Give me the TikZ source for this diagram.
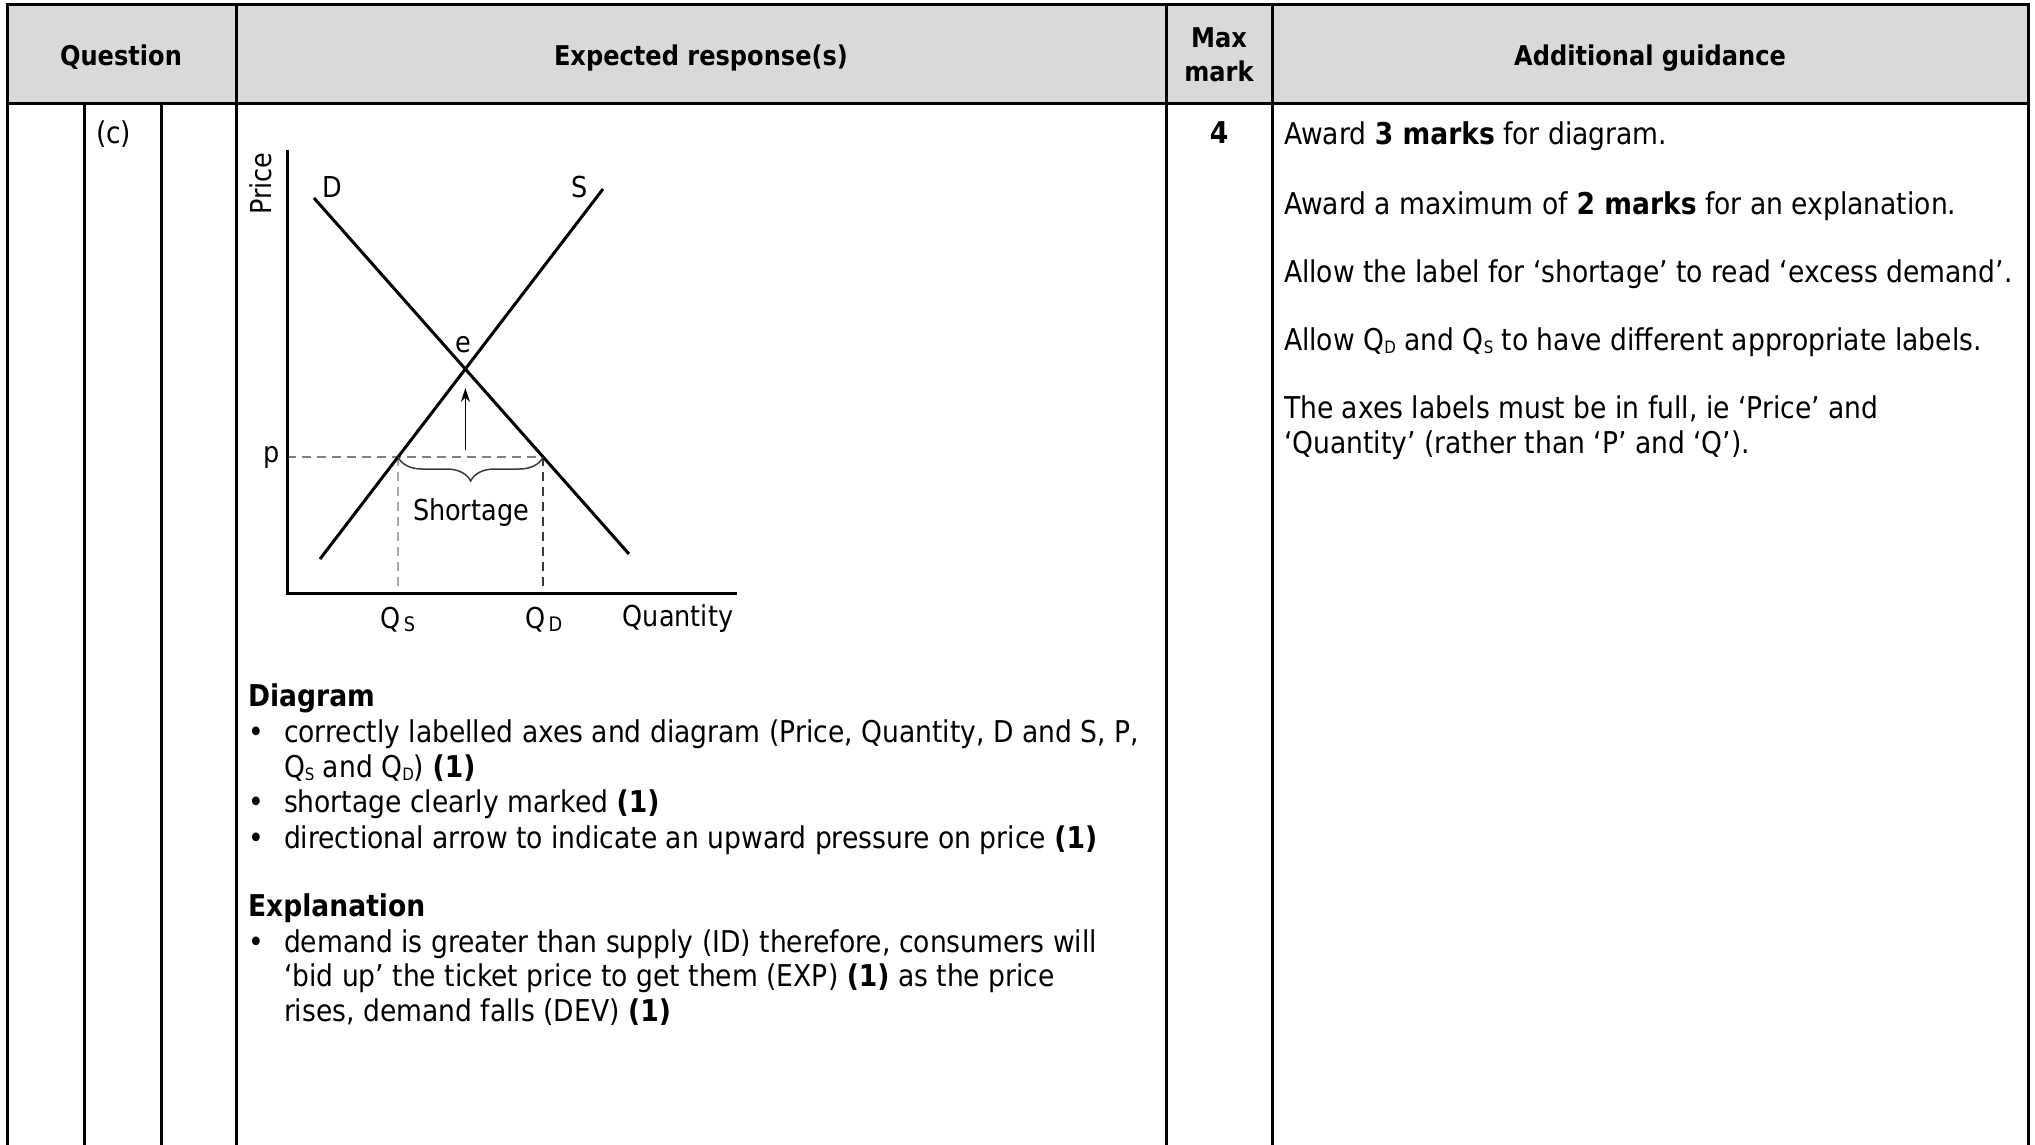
\documentclass[tikz,border=0pt]{standalone}
\usepackage{fontspec}
\setmainfont{DejaVu Sans}[FakeStretch=0.886]
\usetikzlibrary{decorations.pathreplacing,arrows.meta}
\definecolor{hdr}{HTML}{D9D9D9}
\definecolor{dashdark}{HTML}{3A3A3A}
\definecolor{dashmid}{HTML}{808080}
\definecolor{dashlight}{HTML}{A8A8A8}
\newcommand{\qsub}[1]{Q\raisebox{-0.12em}{\fontsize{17}{17}\selectfont #1}}
\newcommand{\gq}[1]{Q\kern3pt\raisebox{-3pt}{\fontsize{20}{20}\selectfont #1}}
\begin{document}
\begin{tikzpicture}[x=1pt,y=-1pt,
  rule/.style={line width=3pt,line join=miter},
  txt/.style={anchor=base west,inner sep=0pt,outer sep=0pt,font=\fontsize{30}{36}\selectfont},
  ctxt/.style={anchor=base,inner sep=0pt,outer sep=0pt,font=\fontsize{30}{36}\selectfont\bfseries},
  hd/.style={anchor=base,inner sep=0pt,outer sep=0pt,font=\fontsize{27.2}{33}\selectfont\bfseries},
  glab/.style={anchor=base,inner sep=0pt,outer sep=0pt,font=\fontsize{28.8}{34}\selectfont},
  curve/.style={line width=3pt},
  axis/.style={line width=3pt,line cap=rect},
  guide/.style={line width=1.5pt,dash pattern=on 9pt off 6pt},
]
\useasboundingbox (0,0) rectangle (2035,1145);
% table
\fill[hdr] (7,5) rectangle (2028,104);
\draw[rule] (7,1150) -- (7,5) -- (2028,5) -- (2028,1150);
\draw[rule] (7,104) -- (2028,104);
\draw[rule] (84,104) -- (84,1150);
\draw[rule] (161,104) -- (161,1150);
\draw[rule] (236,5) -- (236,1150);
\draw[rule] (1166,5) -- (1166,1150);
\draw[rule] (1272,5) -- (1272,1150);
% header
\node[hd] (hq) at (121,66) {Question};
\node[hd] (he) at (701,66) {Expected response(s)};
\node[hd] (hm1) at (1219,48) {Max};
\node[hd] (hm2) at (1219,82) {mark};
\node[hd] (hg) at (1650,66) {Additional guidance};
% row
\node[txt] (qc) at (96,144) {(c)};
\node[ctxt] (mk) at (1219,144) {4};
% guidance
\node[txt] (g1) at (1284,145) {Award \textbf{3 marks} for diagram.};
\node[txt] (g2) at (1284,214) {Award a maximum of \textbf{2 marks} for an explanation.};
\node[txt] (g3) at (1284,282) {Allow the label for ‘shortage’ to read ‘excess demand’.};
\node[txt] (g4) at (1284,350) {Allow \qsub{D} and \qsub{S} to have different appropriate labels.};
\node[txt] (g5) at (1284,418) {The axes labels must be in full, ie ‘Price’ and};
\node[txt] (g6) at (1284,453) {‘Quantity’ (rather than ‘P’ and ‘Q’).};
% expected response text
\node[txt] (dh) at (248,706.5) {\bfseries Diagram};
\node[txt] (b1) at (248,742) {•};
\node[txt] (t1) at (284,742) {correctly labelled axes and diagram (Price, Quantity, D and S, P,};
\node[txt] (t1b) at (284,777) {\qsub{S} and \qsub{D}) \textbf{(1)}};
\node[txt] (b2) at (248,812.5) {•};
\node[txt] (t2) at (284,812.5) {shortage clearly marked \textbf{(1)}};
\node[txt] (b3) at (248,848) {•};
\node[txt] (t3) at (284,848) {directional arrow to indicate an upward pressure on price \textbf{(1)}};
\node[txt] (eh) at (248,916.5) {\bfseries Explanation};
\node[txt] (b4) at (248,952) {•};
\node[txt] (t4) at (284,952) {demand is greater than supply (ID) therefore, consumers will};
\node[txt] (t4b) at (284,986.5) {‘bid up’ the ticket price to get them (EXP) \textbf{(1)} as the price};
\node[txt] (t4c) at (284,1021.5) {rises, demand falls (DEV) \textbf{(1)}};
% graph
\coordinate (O) at (287,593);
\coordinate (ytop) at (287,152);
\coordinate (xend) at (735,593);
\coordinate (D1) at (314,198);
\coordinate (D2) at (629,554);
\coordinate (S1) at (320,559);
\coordinate (S2) at (603,189);
\coordinate (E) at (465.4,369);
\coordinate (py) at (287,457);
\coordinate (qsp) at (398,457);
\coordinate (qdp) at (543.2,457);
\coordinate (qsx) at (398,593);
\coordinate (qdx) at (543.2,593);
\coordinate (ar0) at (465.4,450);
\coordinate (ar1) at (465.4,388);
\draw[guide,dashmid] (py) -- (qdp);
\draw[guide,dashlight] (qsp) -- (qsx);
\draw[guide,dashdark] (qdp) -- (qdx);
\draw[axis] (ytop) -- (O) -- (xend);
\draw[curve] (D1) -- (D2);
\draw[curve] (S1) -- (S2);
\draw[line width=1.5pt,dashdark,decorate,decoration={brace,mirror,amplitude=24pt}] (qsp) -- (qdp);
\draw[line width=1.5pt,-{Stealth[length=14pt,width=9pt]}] (ar0) -- (ar1);
\node[glab,rotate=90] (lprice) at (271,183.5) {Price};
\node[glab] (lD) at (332,197) {D};
\node[glab] (lS) at (580,197) {S};
\node[glab] (le) at (463,352) {e};
\node[glab] (lp) at (272,462) {p};
\node[glab] (lsh) at (471,520) {Shortage};
\node[glab] (lqs) at (398,628) {\gq{S}};
\node[glab] (lqd) at (544,628) {\gq{D}};
\node[glab] (lq) at (678,626) {Quantity};
\end{tikzpicture}
\end{document}
